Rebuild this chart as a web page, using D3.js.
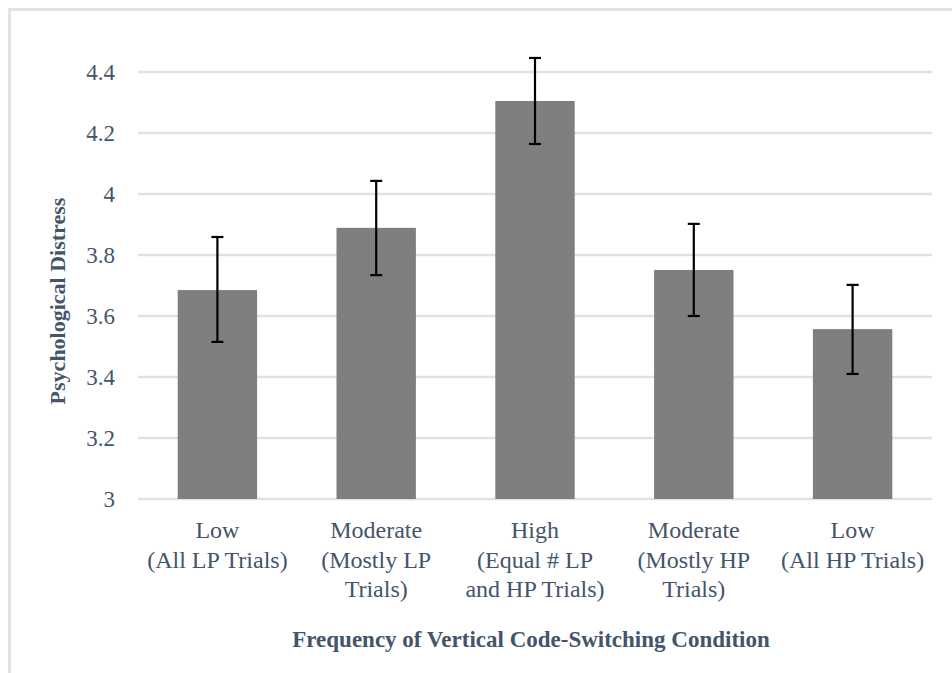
<!DOCTYPE html>
<html><head><meta charset="utf-8">
<script src="https://cdn.jsdelivr.net/npm/d3@7"></script>
<style>body{margin:0;background:#fff}</style>
</head><body>
<svg id="c" width="952" height="673"></svg>
<script>
const categories = [
  ["Low", "(All LP Trials)"],
  ["Moderate", "(Mostly LP", "Trials)"],
  ["High", "(Equal # LP", "and HP Trials)"],
  ["Moderate", "(Mostly HP", "Trials)"],
  ["Low", "(All HP Trials)"]
];
const means = [3.685, 3.889, 4.305, 3.751, 3.557];
const errLow = [3.515, 3.734, 4.164, 3.600, 3.410];
const errHigh = [3.859, 4.043, 4.446, 3.902, 3.702];
const yTicks = [3, 3.2, 3.4, 3.6, 3.8, 4, 4.2, 4.4];
const yTitle = "Psychological Distress";
const xTitle = "Frequency of Vertical Code-Switching Condition";

const svg = d3.select("#c");
const textColor = "#44546A";
const FONT = '"Liberation Serif"';
const BASE = 28;

// outer border
svg.append("rect").attr("x", 9.5).attr("y", 9.5).attr("width", 960).attr("height", 700)
  .attr("fill", "none").attr("stroke", "#dfe3ea").attr("stroke-width", 3);

const pLeft = 138, pRight = 932, pTop = 72, pBottom = 499;
const x = d3.scaleBand().domain(d3.range(categories.length)).range([pLeft, pRight]).paddingInner(0.5).paddingOuter(0.25);
const y = d3.scaleLinear().domain([3, 4.4]).range([pBottom, pTop]);

// grid
svg.append("g").selectAll("line").data(yTicks).join("line")
  .attr("x1", pLeft).attr("x2", pRight)
  .attr("y1", d => y(d)).attr("y2", d => y(d))
  .attr("stroke", "#dde2ea").attr("stroke-width", 2.5);

// y tick labels
const tickScale = 23 / BASE;
svg.append("g").selectAll("g").data(yTicks).join("g")
  .attr("transform", d => `translate(115,${y(d)}) scale(${tickScale})`)
  .append("text")
  .attr("dy", "0.35em")
  .attr("text-anchor", "end").attr("fill", textColor)
  .attr("font-family", FONT).attr("font-size", BASE)
  .text(d => d3.format("~g")(d));

// bars
svg.append("g").selectAll("rect").data(means).join("rect")
  .attr("x", (d, i) => x(i)).attr("width", x.bandwidth())
  .attr("y", d => y(d)).attr("height", d => y(3) - y(d))
  .attr("fill", "#7f7f7f");

// error bars
const eb = svg.append("g").attr("stroke", "#000").attr("stroke-width", 2.2);
means.forEach((m, i) => {
  const cx = x(i) + x.bandwidth() / 2;
  eb.append("line").attr("x1", cx).attr("x2", cx).attr("y1", y(errHigh[i])).attr("y2", y(errLow[i]));
  eb.append("line").attr("x1", cx - 6).attr("x2", cx + 6).attr("y1", y(errHigh[i])).attr("y2", y(errHigh[i]));
  eb.append("line").attr("x1", cx - 6).attr("x2", cx + 6).attr("y1", y(errLow[i])).attr("y2", y(errLow[i]));
});

// x labels
const labScale = 24 / BASE;
categories.forEach((lines, i) => {
  const cx = x(i) + x.bandwidth() / 2;
  const t = svg.append("g").attr("transform", `translate(${cx},538) scale(${labScale})`)
    .append("text").attr("text-anchor", "middle").attr("fill", textColor)
    .attr("font-family", FONT).attr("font-size", BASE);
  lines.forEach((l, j) => {
    t.append("tspan").attr("x", 0).attr("y", j * 29.5 / labScale).text(l);
  });
});

// axis titles
svg.append("text").attr("x", 531).attr("y", 647).attr("text-anchor", "middle")
  .attr("fill", textColor).attr("font-family", FONT).attr("font-size", 23).attr("font-weight", "bold")
  .text(xTitle);
svg.append("text").attr("transform", "translate(65,301) rotate(-90)").attr("text-anchor", "middle")
  .attr("fill", textColor).attr("font-family", FONT).attr("font-size", 22).attr("font-weight", "bold")
  .text(yTitle);
</script>
</body></html>
